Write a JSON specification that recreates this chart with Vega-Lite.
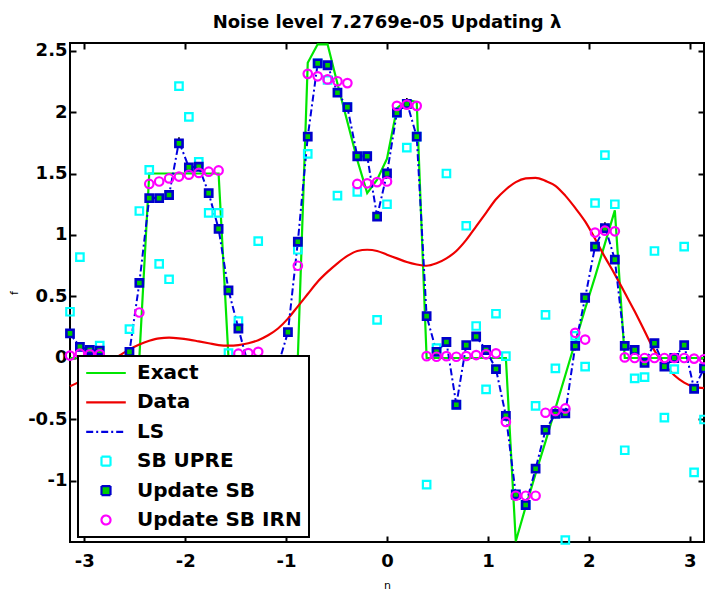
{
  "$schema": "https://vega.github.io/schema/vega-lite/v6.json",
  "width": 634,
  "height": 499,
  "autosize": {"type": "none"},
  "padding": {"left": 70, "top": 43, "right": 1, "bottom": 48},
  "background": "white",
  "title": {"text": "Noise level 7.2769e-05 Updating λ", "font": "DejaVu Sans", "fontSize": 18, "fontWeight": "bold", "color": "black", "offset": -6, "baseline": "alphabetic", "frame": "group", "anchor": "middle"},
  "config": {
    "view": {"stroke": "black", "strokeWidth": 2},
    "axis": {"grid": false, "domain": false, "tickColor": "black", "tickWidth": 2, "tickSize": -6, "labelFont": "DejaVu Sans", "labelFontSize": 18, "labelFontWeight": "bold", "labelColor": "black", "labelFlush": false, "labelOverlap": false, "titleFont": "DejaVu Sans", "titleFontSize": 11, "titleFontWeight": "normal", "titleColor": "black"},
    "axisX": {"labelPadding": 16, "titlePadding": 9},
    "axisY": {"labelPadding": 9, "titlePadding": 8},
    "legend": {"strokeWidth": 2}
  },
  "resolve": {"axis": {"x": "independent", "y": "independent"}},
  "datasets": {
    "exact": [
      {"x":-3.1416,"y":0},{"x":-3.0434,"y":0},{"x":-2.9452,"y":0},{"x":-2.8471,"y":0},{"x":-2.7489,"y":0},{"x":-2.6507,"y":0},{"x":-2.5525,"y":0},{"x":-2.4544,"y":0},
      {"x":-2.3562,"y":1.5},{"x":-2.258,"y":1.5},{"x":-2.1598,"y":1.5},{"x":-2.0617,"y":1.5},{"x":-1.9635,"y":1.5},{"x":-1.8653,"y":1.5},{"x":-1.7671,"y":1.5},{"x":-1.669,"y":1.5},
      {"x":-1.5708,"y":0},{"x":-1.4726,"y":0},{"x":-1.3744,"y":0},{"x":-1.2763,"y":0},{"x":-1.1781,"y":0},{"x":-1.0799,"y":0},{"x":-0.9817,"y":0},{"x":-0.8836,"y":0},
      {"x":-0.7854,"y":2.4},{"x":-0.6872,"y":2.55},{"x":-0.589,"y":2.55},{"x":-0.4909,"y":2.23},{"x":-0.3927,"y":1.92},{"x":-0.2945,"y":1.61},{"x":-0.1963,"y":1.34},{"x":-0.0982,"y":1.45},
      {"x":0,"y":1.62},{"x":0.0982,"y":2.03},{"x":0.1963,"y":2.1},{"x":0.2945,"y":2.08},{"x":0.3927,"y":0},{"x":0.4909,"y":0},{"x":0.589,"y":0},{"x":0.6872,"y":0},
      {"x":0.7854,"y":0},{"x":0.8836,"y":0},{"x":0.9817,"y":0},{"x":1.0799,"y":0},{"x":1.1781,"y":0},{"x":1.2763,"y":-1.49},{"x":1.3744,"y":-1.21},{"x":1.4726,"y":-0.94},
      {"x":1.5708,"y":-0.68},{"x":1.669,"y":-0.41},{"x":1.7671,"y":-0.14},{"x":1.8653,"y":0.13},{"x":1.9635,"y":0.4},{"x":2.0617,"y":0.66},{"x":2.1598,"y":0.93},{"x":2.258,"y":1.2},
      {"x":2.3562,"y":0},{"x":2.4544,"y":0},{"x":2.5525,"y":0},{"x":2.6507,"y":0},{"x":2.7489,"y":0},{"x":2.8471,"y":0},{"x":2.9452,"y":0},{"x":3.0434,"y":0},{"x":3.1416,"y":0}
    ],
    "blurred": [
      {"x":-3.1416,"y":-0.23},{"x":-3.0434,"y":-0.19},{"x":-2.9452,"y":-0.14},{"x":-2.8471,"y":-0.08},{"x":-2.7489,"y":-0.03},{"x":-2.6507,"y":0.02},{"x":-2.5525,"y":0.07},{"x":-2.4544,"y":0.11},
      {"x":-2.3562,"y":0.14},{"x":-2.258,"y":0.16},{"x":-2.1598,"y":0.165},{"x":-2.0617,"y":0.16},{"x":-1.9635,"y":0.15},{"x":-1.8653,"y":0.135},{"x":-1.7671,"y":0.12},{"x":-1.669,"y":0.105},
      {"x":-1.5708,"y":0.1},{"x":-1.4726,"y":0.105},{"x":-1.3744,"y":0.12},{"x":-1.2763,"y":0.145},{"x":-1.1781,"y":0.185},{"x":-1.0799,"y":0.24},{"x":-0.9817,"y":0.32},{"x":-0.8836,"y":0.42},
      {"x":-0.7854,"y":0.52},{"x":-0.6872,"y":0.62},{"x":-0.589,"y":0.7},{"x":-0.4909,"y":0.77},{"x":-0.3927,"y":0.83},{"x":-0.2945,"y":0.87},{"x":-0.1963,"y":0.88},{"x":-0.0982,"y":0.87},
      {"x":0,"y":0.84},{"x":0.0982,"y":0.81},{"x":0.1963,"y":0.78},{"x":0.2945,"y":0.76},{"x":0.3927,"y":0.75},{"x":0.4909,"y":0.77},{"x":0.589,"y":0.81},{"x":0.6872,"y":0.87},
      {"x":0.7854,"y":0.96},{"x":0.8836,"y":1.07},{"x":0.9817,"y":1.18},{"x":1.0799,"y":1.29},{"x":1.1781,"y":1.37},{"x":1.2763,"y":1.43},{"x":1.3744,"y":1.46},{"x":1.4726,"y":1.465},
      {"x":1.5708,"y":1.44},{"x":1.669,"y":1.4},{"x":1.7671,"y":1.32},{"x":1.8653,"y":1.22},{"x":1.9635,"y":1.11},{"x":2.0617,"y":0.97},{"x":2.1598,"y":0.82},{"x":2.258,"y":0.68},
      {"x":2.3562,"y":0.53},{"x":2.4544,"y":0.38},{"x":2.5525,"y":0.22},{"x":2.6507,"y":0.06},{"x":2.7489,"y":-0.05},{"x":2.8471,"y":-0.14},{"x":2.9452,"y":-0.2},{"x":3.0434,"y":-0.235},{"x":3.1416,"y":-0.245}
    ],
    "ls": [
      {"x":-3.1416,"y":0.2},{"x":-3.0434,"y":0.09},{"x":-2.9452,"y":0.065},{"x":-2.8471,"y":0.06},{"x":-2.7489,"y":-0.06},{"x":-2.6507,"y":-0.08},{"x":-2.5525,"y":0.05},{"x":-2.4544,"y":0.61},
      {"x":-2.3562,"y":1.3},{"x":-2.258,"y":1.3},{"x":-2.1598,"y":1.325},{"x":-2.0617,"y":1.76},{"x":-1.9635,"y":1.55},{"x":-1.8653,"y":1.555},{"x":-1.7671,"y":1.34},{"x":-1.669,"y":1.05},
      {"x":-1.5708,"y":0.55},{"x":-1.4726,"y":0.24},{"x":-1.3744,"y":-0.06},{"x":-1.2763,"y":-0.1},{"x":-1.1781,"y":-0.1},{"x":-1.0799,"y":-0.06},{"x":-0.9817,"y":0.21},{"x":-0.8836,"y":0.945},
      {"x":-0.7854,"y":1.8},{"x":-0.6872,"y":2.395},{"x":-0.589,"y":2.38},{"x":-0.4909,"y":2.157},{"x":-0.3927,"y":2.04},{"x":-0.2945,"y":1.64},{"x":-0.1963,"y":1.64},{"x":-0.0982,"y":1.15},
      {"x":0,"y":1.5},{"x":0.0982,"y":1.995},{"x":0.1963,"y":2.08},{"x":0.2945,"y":1.8},{"x":0.3927,"y":0.34},{"x":0.4909,"y":0.05},{"x":0.589,"y":0.13},{"x":0.6872,"y":-0.38},
      {"x":0.7854,"y":0.105},{"x":0.8836,"y":0.175},{"x":0.9817,"y":0.065},{"x":1.0799,"y":-0.09},{"x":1.1781,"y":-0.47},{"x":1.2763,"y":-1.11},{"x":1.3744,"y":-1.195},{"x":1.4726,"y":-0.9},
      {"x":1.5708,"y":-0.585},{"x":1.669,"y":-0.455},{"x":1.7671,"y":-0.45},{"x":1.8653,"y":0.098},{"x":1.9635,"y":0.49},{"x":2.0617,"y":0.905},{"x":2.1598,"y":1.07},{"x":2.258,"y":0.8},
      {"x":2.3562,"y":0.098},{"x":2.4544,"y":0.065},{"x":2.5525,"y":-0.04},{"x":2.6507,"y":0.12},{"x":2.7489,"y":-0.07},{"x":2.8471,"y":0},{"x":2.9452,"y":0.105},{"x":3.0434,"y":-0.25},{"x":3.1416,"y":-0.085}
    ],
    "upre": [
      {"x":-3.1416,"y":0.376},{"x":-3.0434,"y":0.82},{"x":-2.9452,"y":-0.3},{"x":-2.8471,"y":0.1},{"x":-2.7489,"y":-0.6},{"x":-2.6507,"y":-0.25},{"x":-2.5525,"y":0.235},{"x":-2.4544,"y":1.195},
      {"x":-2.3562,"y":1.53},{"x":-2.258,"y":0.765},{"x":-2.1598,"y":0.64},{"x":-2.0617,"y":2.21},{"x":-1.9635,"y":1.96},{"x":-1.8653,"y":1.595},{"x":-1.7671,"y":1.18},{"x":-1.669,"y":1.18},
      {"x":-1.5708,"y":0.04},{"x":-1.4726,"y":0.3},{"x":-1.3744,"y":-0.5},{"x":-1.2763,"y":0.95},{"x":-1.1781,"y":-0.3},{"x":-1.0799,"y":-0.8},{"x":-0.9817,"y":-0.4},{"x":-0.8836,"y":0.88},
      {"x":-0.7854,"y":1.66},{"x":-0.6872,"y":2.395},{"x":-0.589,"y":2.26},{"x":-0.4909,"y":1.32},{"x":-0.3927,"y":2.04},{"x":-0.2945,"y":1.35},{"x":-0.1963,"y":1.64},{"x":-0.0982,"y":0.31},
      {"x":0,"y":1.25},{"x":0.0982,"y":1.995},{"x":0.1963,"y":1.71},{"x":0.2945,"y":1.8},{"x":0.3927,"y":-1.03},{"x":0.4909,"y":0.08},{"x":0.589,"y":1.5},{"x":0.6872,"y":-0.38},
      {"x":0.7854,"y":1.075},{"x":0.8836,"y":0.26},{"x":0.9817,"y":-0.255},{"x":1.0799,"y":0.36},{"x":1.1781,"y":0.015},{"x":1.2763,"y":-1.11},{"x":1.3744,"y":-1.195},{"x":1.4726,"y":-0.39},
      {"x":1.5708,"y":0.35},{"x":1.669,"y":-0.085},{"x":1.7671,"y":-1.48},{"x":1.8653,"y":0.18},{"x":1.9635,"y":-0.07},{"x":2.0617,"y":1.26},{"x":2.1598,"y":1.65},{"x":2.258,"y":1.25},
      {"x":2.3562,"y":-0.75},{"x":2.4544,"y":-0.165},{"x":2.5525,"y":-0.155},{"x":2.6507,"y":0.87},{"x":2.7489,"y":-0.485},{"x":2.8471,"y":-0.09},{"x":2.9452,"y":0.905},{"x":3.0434,"y":-0.93},{"x":3.1416,"y":-0.5}
    ],
    "sb": [
      {"x":-3.1416,"y":0.2},{"x":-3.0434,"y":0.09},{"x":-2.9452,"y":0.065},{"x":-2.8471,"y":0.06},{"x":-2.7489,"y":-0.06},{"x":-2.6507,"y":-0.08},{"x":-2.5525,"y":0.05},{"x":-2.4544,"y":0.61},
      {"x":-2.3562,"y":1.3},{"x":-2.258,"y":1.3},{"x":-2.1598,"y":1.325},{"x":-2.0617,"y":1.745},{"x":-1.9635,"y":1.55},{"x":-1.8653,"y":1.555},{"x":-1.7671,"y":1.34},{"x":-1.669,"y":1.05},
      {"x":-1.5708,"y":0.55},{"x":-1.4726,"y":0.24},{"x":-1.3744,"y":-0.06},{"x":-1.2763,"y":-0.1},{"x":-1.1781,"y":-0.1},{"x":-1.0799,"y":-0.06},{"x":-0.9817,"y":0.21},{"x":-0.8836,"y":0.945},
      {"x":-0.7854,"y":1.8},{"x":-0.6872,"y":2.395},{"x":-0.589,"y":2.38},{"x":-0.4909,"y":2.157},{"x":-0.3927,"y":2.04},{"x":-0.2945,"y":1.64},{"x":-0.1963,"y":1.64},{"x":-0.0982,"y":1.15},
      {"x":0,"y":1.5},{"x":0.0982,"y":1.995},{"x":0.1963,"y":2.065},{"x":0.2945,"y":1.8},{"x":0.3927,"y":0.34},{"x":0.4909,"y":0.05},{"x":0.589,"y":0.13},{"x":0.6872,"y":-0.38},
      {"x":0.7854,"y":0.105},{"x":0.8836,"y":0.175},{"x":0.9817,"y":0.065},{"x":1.0799,"y":-0.09},{"x":1.1781,"y":-0.47},{"x":1.2763,"y":-1.11},{"x":1.3744,"y":-1.195},{"x":1.4726,"y":-0.9},
      {"x":1.5708,"y":-0.585},{"x":1.669,"y":-0.455},{"x":1.7671,"y":-0.45},{"x":1.8653,"y":0.098},{"x":1.9635,"y":0.49},{"x":2.0617,"y":0.905},{"x":2.1598,"y":1.055},{"x":2.258,"y":0.8},
      {"x":2.3562,"y":0.098},{"x":2.4544,"y":0.065},{"x":2.5525,"y":-0.04},{"x":2.6507,"y":0.12},{"x":2.7489,"y":-0.07},{"x":2.8471,"y":0},{"x":2.9452,"y":0.105},{"x":3.0434,"y":-0.25},{"x":3.1416,"y":-0.085}
    ],
    "irn": [
      {"x":-3.1416,"y":0.02},{"x":-3.0434,"y":0.035},{"x":-2.9452,"y":0.03},{"x":-2.8471,"y":0.03},{"x":-2.7489,"y":-0.05},{"x":-2.6507,"y":-0.05},{"x":-2.5525,"y":-0.05},{"x":-2.4544,"y":0.37},
      {"x":-2.3562,"y":1.415},{"x":-2.258,"y":1.435},{"x":-2.1598,"y":1.46},{"x":-2.0617,"y":1.475},{"x":-1.9635,"y":1.49},{"x":-1.8653,"y":1.505},{"x":-1.7671,"y":1.515},{"x":-1.669,"y":1.525},
      {"x":-1.5708,"y":-0.05},{"x":-1.4726,"y":0.035},{"x":-1.3744,"y":0.04},{"x":-1.2763,"y":0.05},{"x":-1.1781,"y":-0.05},{"x":-1.0799,"y":-0.05},{"x":-0.9817,"y":-0.05},{"x":-0.8836,"y":0.75},
      {"x":-0.7854,"y":2.31},{"x":-0.6872,"y":2.29},{"x":-0.589,"y":2.265},{"x":-0.4909,"y":2.25},{"x":-0.3927,"y":2.235},{"x":-0.2945,"y":1.415},{"x":-0.1963,"y":1.42},{"x":-0.0982,"y":1.43},
      {"x":0,"y":1.435},{"x":0.0982,"y":2.05},{"x":0.1963,"y":2.06},{"x":0.2945,"y":2.05},{"x":0.3927,"y":0.015},{"x":0.4909,"y":0.01},{"x":0.589,"y":0.015},{"x":0.6872,"y":0.01},
      {"x":0.7854,"y":0.016},{"x":0.8836,"y":0.024},{"x":0.9817,"y":0.03},{"x":1.0799,"y":0.038},{"x":1.1781,"y":-0.52},{"x":1.2763,"y":-1.12},{"x":1.3744,"y":-1.12},{"x":1.4726,"y":-1.12},
      {"x":1.5708,"y":-0.445},{"x":1.669,"y":-0.43},{"x":1.7671,"y":-0.41},{"x":1.8653,"y":0.205},{"x":1.9635,"y":0.15},{"x":2.0617,"y":1.02},{"x":2.1598,"y":1.035},{"x":2.258,"y":1.03},
      {"x":2.3562,"y":0.005},{"x":2.4544,"y":0},{"x":2.5525,"y":0},{"x":2.6507,"y":0},{"x":2.7489,"y":0},{"x":2.8471,"y":0},{"x":2.9452,"y":0},{"x":3.0434,"y":-0.005},{"x":3.1416,"y":-0.01}
    ]
  },
  "layer": [
    {
      "data": {"name": "exact"},
      "mark": {"type": "line", "strokeWidth": 2.2},
      "encoding": {
        "x": {"field": "x", "type": "quantitative", "scale": {"domain": [-3.1416, 3.1416], "nice": false, "zero": false},
              "axis": {"orient": "bottom", "values": [-3, -2, -1, 0, 1, 2, 3], "labelExpr": "datum.value + ''", "title": "n"}},
        "y": {"field": "y", "type": "quantitative", "scale": {"domain": [-1.496, 2.561], "nice": false, "zero": false},
              "axis": {"orient": "left", "values": [-1, -0.5, 0, 0.5, 1, 1.5, 2, 2.5], "labelExpr": "datum.value + ''", "title": "f"}},
        "color": {
          "datum": "Exact", "type": "nominal",
          "scale": {"domain": ["Exact", "Data", "LS", "SB UPRE", "Update SB", "Update SB IRN"], "range": ["#00e600", "#ee0000", "#0000e0", "#00ffff", "#0000cc", "#ff00ff"]},
          "legend": {
            "title": null, "orient": "none", "legendX": 8, "legendY": 313,
            "padding": 7, "rowPadding": 9.4, "symbolOffset": 11, "labelOffset": 21,
            "symbolSize": 81, "symbolStrokeWidth": 2,
            "labelFont": "DejaVu Sans", "labelFontSize": 20, "labelFontWeight": "bold", "labelColor": "black", "labelLimit": 400,
            "strokeColor": "black", "fillColor": "white", "cornerRadius": 0,
            "encode": {
              "symbols": {
                "update": {
                  "shape": {"signal": "(datum.value === 'Exact' || datum.value === 'Data' || datum.value === 'LS') ? 'M-4.4,0L4.4,0' : (datum.value === 'Update SB IRN' ? 'circle' : 'square')"},
                  "stroke": {"signal": "scale('color', datum.value)"},
                  "fill": {"signal": "datum.value === 'Update SB' ? '#00cc00' : 'transparent'"},
                  "strokeDash": {"signal": "datum.value === 'LS' ? [7, 3, 2, 3] : [1, 0]"},
                  "strokeWidth": {"value": 2.2},
                  "opacity": {"value": 1}
                }
              }
            }
          }
        }
      }
    },
    {
      "data": {"name": "blurred"},
      "mark": {"type": "line", "strokeWidth": 2.2, "color": "#ee0000", "interpolate": "monotone"},
      "encoding": {
        "x": {"field": "x", "type": "quantitative", "axis": {"orient": "top", "values": [-3, -2, -1, 0, 1, 2, 3], "labels": false, "title": null}},
        "y": {"field": "y", "type": "quantitative", "axis": {"orient": "right", "values": [-1, -0.5, 0, 0.5, 1, 1.5, 2, 2.5], "labels": false, "title": null}}
      }
    },
    {
      "data": {"name": "ls"},
      "mark": {"type": "line", "strokeWidth": 2, "color": "#0000e0", "strokeDash": [7, 3, 2, 3]},
      "encoding": {
        "x": {"field": "x", "type": "quantitative", "axis": null},
        "y": {"field": "y", "type": "quantitative", "axis": null}
      }
    },
    {
      "data": {"name": "ls"},
      "mark": {"type": "point", "shape": "M0,-1L0,1M-0.87,-0.5L0.87,0.5M-0.87,0.5L0.87,-0.5", "filled": false, "stroke": "black", "strokeWidth": 1.6, "size": 70, "opacity": 1},
      "encoding": {
        "x": {"field": "x", "type": "quantitative", "axis": null},
        "y": {"field": "y", "type": "quantitative", "axis": null}
      }
    },
    {
      "data": {"name": "upre"},
      "mark": {"type": "point", "shape": "square", "filled": false, "stroke": "#00ffff", "strokeWidth": 2.2, "size": 56, "opacity": 1},
      "encoding": {
        "x": {"field": "x", "type": "quantitative", "axis": null},
        "y": {"field": "y", "type": "quantitative", "axis": null}
      }
    },
    {
      "data": {"name": "sb"},
      "mark": {"type": "point", "shape": "square", "filled": true, "fill": "#00cc00", "stroke": "#0000cc", "strokeWidth": 2.6, "size": 52, "opacity": 1},
      "encoding": {
        "x": {"field": "x", "type": "quantitative", "axis": null},
        "y": {"field": "y", "type": "quantitative", "axis": null}
      }
    },
    {
      "data": {"name": "irn"},
      "mark": {"type": "point", "shape": "circle", "filled": false, "stroke": "#ff00ff", "strokeWidth": 2.2, "size": 72, "opacity": 1},
      "encoding": {
        "x": {"field": "x", "type": "quantitative", "axis": null},
        "y": {"field": "y", "type": "quantitative", "axis": null}
      }
    }
  ]
}
